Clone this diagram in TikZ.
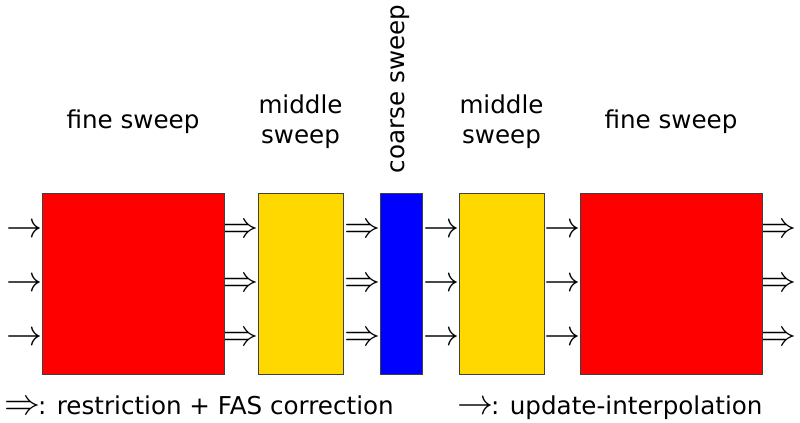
\documentclass[tikz,border=0pt]{standalone}
\usepackage{graphicx}
\usepackage{fontspec}
\setmainfont{DejaVu Sans}
\newcommand{\sarrow}{\resizebox{36bp}{!}{$\rightarrow$}}
\newcommand{\darrow}{\resizebox{36bp}{!}{$\Rightarrow$}}
\begin{document}
\begin{tikzpicture}[x=1bp,y=-1bp,
  box/.style={draw=black!75,line width=0.8bp,inner sep=0pt,minimum height=181bp},
  lbl/.style={font=\fontsize{24.6bp}{30bp}\selectfont,align=center,inner sep=0pt},
  sarr/.style={inner sep=0pt,anchor=east},
]
\useasboundingbox (0,0) rectangle (800,422);
% arrows first
\foreach \y [count=\i] in {231,285,339}{
  \node[sarr] (a0\i) at (42.5,\y) {\sarrow};
  \node[sarr] (a1\i) at (258.5,\y) {\darrow};
  \node[sarr] (a2\i) at (380.5,\y) {\darrow};
  \node[sarr] (a3\i) at (459.5,\y) {\sarrow};
  \node[sarr] (a4\i) at (580.5,\y) {\sarrow};
  \node[sarr] (a5\i) at (797,\y) {\darrow};
}
\node[box,fill=red,minimum width=182bp] (f1) at (133,283.5) {};
\node[box,fill={rgb,255:red,255;green,216;blue,0},minimum width=85bp] (m1) at (300.5,283.5) {};
\node[box,fill=blue,minimum width=42bp] (c) at (401,283.5) {};
\node[box,fill={rgb,255:red,255;green,216;blue,0},minimum width=85bp] (m2) at (501.5,283.5) {};
\node[box,fill=red,minimum width=182bp] (f2) at (671,283.5) {};
% labels
\node[lbl] (l1) at (133,122) {fine sweep};
\node[lbl] (l2) at (300.5,121.5) {middle\\sweep};
\node[lbl,rotate=90] (l3) at (400,89) {coarse sweep};
\node[lbl] (l4) at (501.5,121.5) {middle\\sweep};
\node[lbl] (l5) at (671,122) {fine sweep};
% legend
\node[lbl,anchor=base west] (g1) at (4,414) {\darrow\kern-2bp: restriction + FAS correction};
\node[lbl,anchor=base west] (g2) at (457,414) {\sarrow\kern-2bp: update-interpolation};
\end{tikzpicture}
\end{document}
